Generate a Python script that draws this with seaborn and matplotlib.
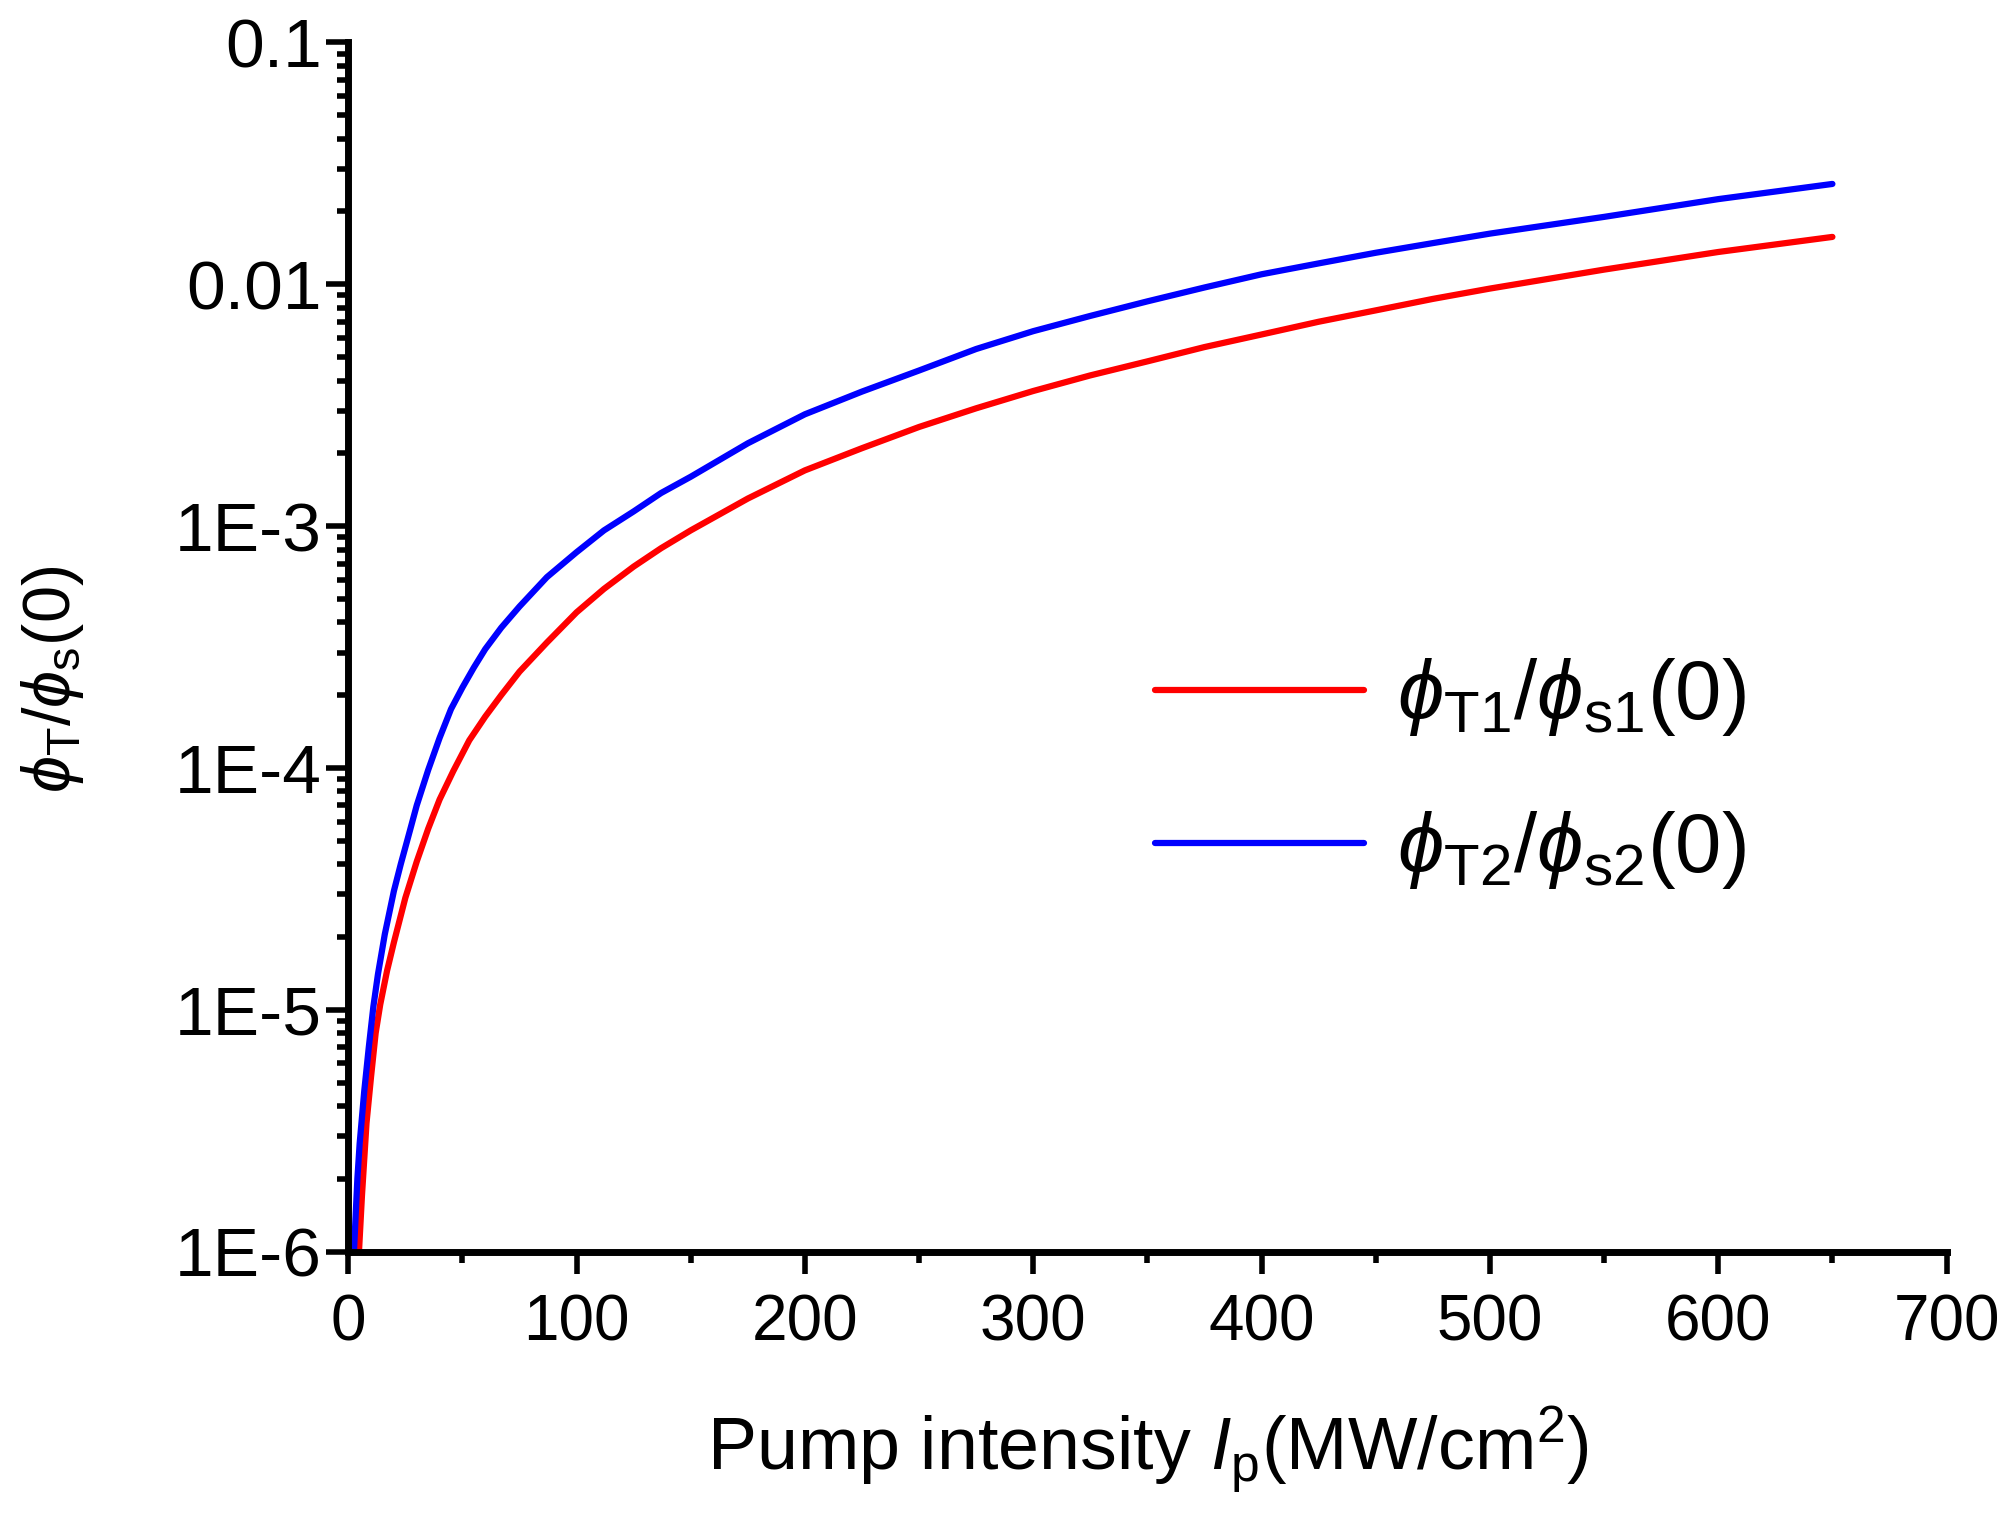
import numpy as np
import pandas as pd
import matplotlib
matplotlib.use("Agg")
import matplotlib.pyplot as plt
import seaborn as sns
from matplotlib.ticker import LogLocator, NullFormatter, MultipleLocator
from matplotlib.lines import Line2D

# pump intensity I_p (MW/cm^2) and phi_T/phi_s(0)
x_red = [4.7, 6, 8, 10, 12, 14, 17, 20, 25, 30, 35, 40, 46, 53, 60, 67, 75, 87,
         100, 112, 125, 137, 150, 175, 200, 225, 250, 275, 300, 325, 350, 375,
         400, 425, 450, 475, 500, 550, 600, 650]
y_red = [1e-6, 1.7e-6, 3.4e-6, 5.3e-6, 8e-6, 1.05e-5, 1.45e-5, 1.9e-5, 2.9e-5, 4.1e-5,
         5.6e-5, 7.4e-5, 9.7e-5, 1.3e-4, 1.63e-4, 2e-4, 2.5e-4, 3.3e-4,
         4.4e-4, 5.5e-4, 6.8e-4, 8.1e-4, 9.6e-4, 1.3e-3, 1.7e-3, 2.1e-3, 2.57e-3,
         3.07e-3, 3.62e-3, 4.2e-3, 4.8e-3, 5.5e-3, 6.2e-3, 7e-3, 7.8e-3, 8.7e-3,
         9.6e-3, 1.15e-2, 1.36e-2, 1.57e-2]

x_blue = [2.5, 4, 5, 7, 9, 11, 13, 16, 20, 23, 27, 30, 35, 40, 45, 50, 55, 60, 67,
          75, 87, 100, 112, 125, 137, 150, 175, 200, 225, 250, 275, 300, 325, 350,
          375, 400, 425, 450, 475, 500, 550, 600, 650]
y_blue = [1e-6, 2e-6, 2.8e-6, 4.6e-6, 7e-6, 1.03e-5, 1.4e-5, 2.05e-5, 3.1e-5, 4e-5,
          5.5e-5, 7e-5, 9.8e-5, 1.33e-4, 1.75e-4, 2.15e-4, 2.6e-4, 3.1e-4, 3.8e-4,
          4.65e-4, 6.15e-4, 7.8e-4, 9.6e-4, 1.15e-3, 1.37e-3, 1.6e-3, 2.2e-3, 2.9e-3,
          3.6e-3, 4.4e-3, 5.4e-3, 6.4e-3, 7.4e-3, 8.5e-3, 9.7e-3, 1.1e-2, 1.22e-2,
          1.35e-2, 1.48e-2, 1.62e-2, 1.9e-2, 2.25e-2, 2.6e-2]

series_names = [r'$\phi_{\mathrm{T1}}/\phi_{\mathrm{s1}}(0)$',
                r'$\phi_{\mathrm{T2}}/\phi_{\mathrm{s2}}(0)$']
series_colors = ['#ff0000', '#0000ff']

xtick_vals = [0, 100, 200, 300, 400, 500, 600, 700]
ytick_vals = [1e-6, 1e-5, 1e-4, 1e-3, 1e-2, 1e-1]
ytick_labels = ['1E-6', '1E-5', '1E-4', '1E-3', '0.01', '0.1']

sns.set_style("ticks")
plt.rcParams['font.family'] = ['Liberation Sans', 'DejaVu Sans']
plt.rcParams['mathtext.fontset'] = 'custom'
plt.rcParams['mathtext.rm'] = 'Liberation Sans'
plt.rcParams['mathtext.it'] = 'Liberation Sans:italic'
plt.rcParams['mathtext.bf'] = 'Liberation Sans:bold'
for key in ['text.color', 'axes.labelcolor', 'axes.edgecolor', 'xtick.color', 'ytick.color']:
    plt.rcParams[key] = 'black'

df = pd.concat([
    pd.DataFrame({'I': x_red, 'ratio': y_red, 'curve': series_names[0]}),
    pd.DataFrame({'I': x_blue, 'ratio': y_blue, 'curve': series_names[1]}),
], ignore_index=True)

fig = plt.figure(figsize=(20.13, 15.17), dpi=100)
ax = fig.add_axes([0.173, 0.175, 0.794, 0.797])

sns.lineplot(data=df, x='I', y='ratio', hue='curve',
             palette=dict(zip(series_names, series_colors)),
             linewidth=4.5, estimator=None, legend=False, ax=ax)

ax.set_yscale('log')
ax.set_xlim(0, 700)
ax.set_ylim(1e-6, 0.1)

# Axes and ticks
sns.despine(ax=ax)
for s in ['left', 'bottom']:
    ax.spines[s].set_linewidth(5)
ax.set_xticks(xtick_vals)
ax.xaxis.set_minor_locator(MultipleLocator(50))
ax.set_yticks(ytick_vals, ytick_labels)
ax.yaxis.set_minor_locator(LogLocator(base=10, subs=np.arange(2, 10)))
ax.yaxis.set_minor_formatter(NullFormatter())
ax.tick_params(which='major', direction='out', length=16, width=4)
ax.tick_params(which='minor', direction='out', length=8, width=4)
ax.tick_params(axis='x', which='major', pad=14, labelsize=46)
ax.tick_params(axis='y', which='major', pad=3, labelsize=50)

ax.set_xlabel(r'Pump intensity $I_{\mathrm{p}}$(MW/cm$^{2}$)', fontsize=53)
ax.xaxis.set_label_coords(0.5, -0.127)
ax.set_ylabel(r'$\phi_{\mathrm{T}}/\phi_{\mathrm{s}}(0)$', fontsize=48)
ax.yaxis.set_label_coords(-0.164, 0.473)

# Legend
handles = [Line2D([], [], color=c, linewidth=4.5) for c in series_colors]
fig.legend(handles, series_names, loc='center left', bbox_to_anchor=(0.574, 0.49),
           frameon=False, fontsize=60, handlelength=2.5, handletextpad=0.4,
           labelspacing=0.85, borderpad=0, borderaxespad=0)

plt.savefig('out.png', dpi=100, facecolor='white')
plt.close()
